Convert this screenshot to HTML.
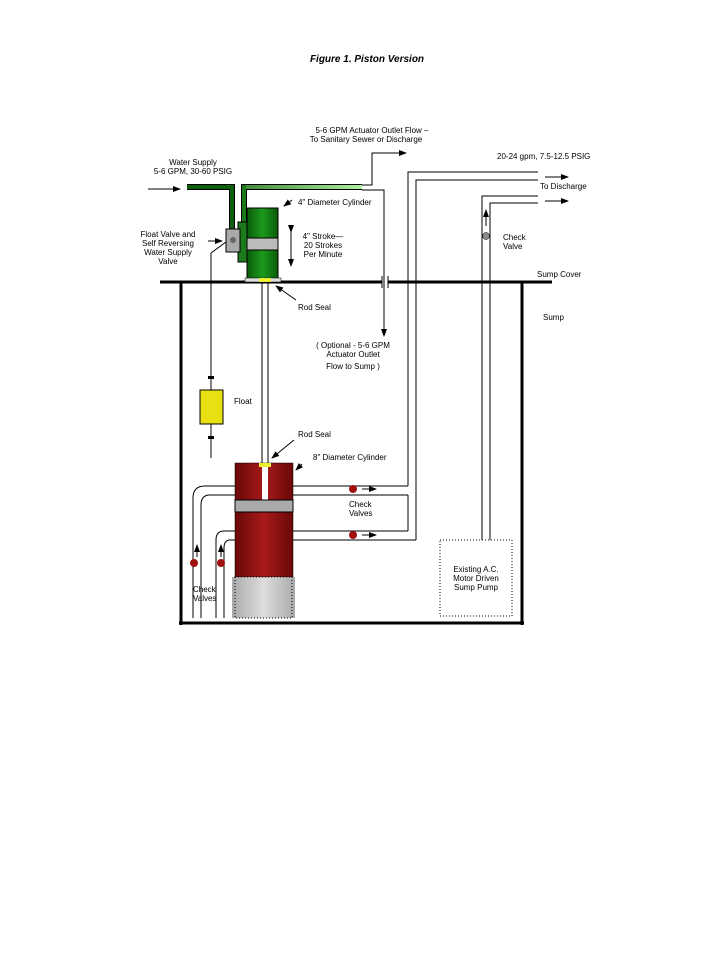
<!DOCTYPE html>
<html><head><meta charset="utf-8"><style>
body{margin:0;background:#fff}
svg text{font-family:"Liberation Sans",sans-serif;font-size:8px;fill:#000}
</style></head><body>
<svg width="719" height="959" viewBox="0 0 719 959" xmlns="http://www.w3.org/2000/svg">
<defs>
<linearGradient id="g" x1="0" x2="1"><stop offset="0" stop-color="#0a5a0a"/><stop offset=".5" stop-color="#1c9a1c"/><stop offset="1" stop-color="#0a5a0a"/></linearGradient>
<linearGradient id="r" x1="0" x2="1"><stop offset="0" stop-color="#6a0808"/><stop offset=".5" stop-color="#a81a1a"/><stop offset="1" stop-color="#6a0808"/></linearGradient>
<linearGradient id="gp" gradientUnits="userSpaceOnUse" x1="187" x2="362" y1="0" y2="0"><stop offset="0" stop-color="#0a5a0a"/><stop offset="1" stop-color="#aef0a0"/></linearGradient>
<linearGradient id="gr" x1="0" x2="1"><stop offset="0" stop-color="#aaa"/><stop offset=".5" stop-color="#ddd"/><stop offset="1" stop-color="#aaa"/></linearGradient>
<marker id="a" markerWidth="8" markerHeight="6" refX="7" refY="3" orient="auto"><path d="M0,0L8,3L0,6z"/></marker>
</defs>
<text x="367" y="62" text-anchor="middle" style="font-size:10px;font-weight:bold;font-style:italic">Figure 1. Piston Version</text>

<g stroke="#000" fill="none">
<line x1="160" y1="282" x2="382" y2="282" stroke-width="3"/>
<line x1="388" y1="282" x2="552" y2="282" stroke-width="3"/>
<line x1="382" y1="276" x2="382" y2="288"/><line x1="388" y1="276" x2="388" y2="288"/>
<line x1="181" y1="282" x2="181" y2="625" stroke-width="3"/>
<line x1="522" y1="282" x2="522" y2="625" stroke-width="3"/>
<line x1="179" y1="623" x2="524" y2="623" stroke-width="3"/>
</g>
<g stroke="#000" fill="none" stroke-width="1">
<path d="M408 486V172H538"/><path d="M416 540V180H538"/>
<path d="M408 495V531"/>
<path d="M482 540V196H538"/><path d="M490 540V203H538"/>
<line x1="545" y1="177" x2="568" y2="177" marker-end="url(#a)"/>
<line x1="545" y1="201" x2="568" y2="201" marker-end="url(#a)"/>
<line x1="486" y1="226" x2="486" y2="210" marker-end="url(#a)"/>
<path d="M362 185H372V153H406" marker-end="url(#a)"/>
<path d="M362 190H384V336" marker-end="url(#a)"/>
<path d="M235 486H205Q193 486 193 498V618"/>
<path d="M235 495H210Q201 495 201 505V618"/>
<path d="M235 531H224Q216 531 216 540V618"/>
<path d="M235 540H230Q224 540 224 548V618"/>
<path d="M293 486H408"/><path d="M293 495H408"/>
<path d="M293 531H408"/><path d="M293 540H416"/>
<line x1="362" y1="489" x2="376" y2="489" marker-end="url(#a)"/>
<line x1="362" y1="535" x2="376" y2="535" marker-end="url(#a)"/>
<line x1="197" y1="557" x2="197" y2="545" marker-end="url(#a)"/>
<line x1="221" y1="557" x2="221" y2="545" marker-end="url(#a)"/>
<line x1="262" y1="282" x2="262" y2="470"/><line x1="268" y1="282" x2="268" y2="470"/>
<line x1="211" y1="253" x2="211" y2="458"/>
<line x1="211" y1="253" x2="226" y2="242"/>
</g>
<circle cx="486" cy="236" r="3.5" fill="#888" stroke="#000" stroke-width=".5"/>
<circle cx="353" cy="489" r="4" fill="#a01010"/><circle cx="353" cy="535" r="4" fill="#a01010"/>
<circle cx="194" cy="563" r="4" fill="#a01010"/><circle cx="221" cy="563" r="4" fill="#a01010"/>
<rect x="208" y="376" width="6" height="3" fill="#000"/><rect x="208" y="436" width="6" height="3" fill="#000"/>
<rect x="200" y="390" width="23" height="34" fill="#e8e010" stroke="#000"/>
<rect x="440" y="540" width="72" height="76" fill="none" stroke="#000" stroke-dasharray="1,2"/>

<!-- green pipes -->
<path d="M187 187H232V229" fill="none" stroke="#000" stroke-width="6"/>
<path d="M244 222V187H362" fill="none" stroke="#000" stroke-width="6"/>
<path d="M187 187H232V229" fill="none" stroke="#0d5f0d" stroke-width="4"/>
<path d="M244 222V187H362" fill="none" stroke="#1a7a1a" stroke-width="4"/>
<line x1="246" y1="187" x2="362" y2="187" stroke="url(#gp)" stroke-width="4"/>
<rect x="238" y="222" width="10" height="40" fill="#1c7a1c" stroke="#000"/>
<rect x="226" y="229" width="14" height="23" fill="#aaa" stroke="#000"/>
<circle cx="233" cy="240" r="3" fill="#666"/>
<rect x="247" y="208" width="31" height="74" fill="url(#g)" stroke="#000"/>
<rect x="247" y="238" width="31" height="12" fill="#bbb" stroke="#000"/>
<rect x="245" y="278" width="36" height="4" fill="#ddd" stroke="#000" stroke-width=".5"/>
<rect x="259" y="278" width="12" height="4" fill="#ee3"/>
<line x1="291" y1="232" x2="291" y2="266" stroke="#000" marker-end="url(#a)" marker-start="url(#a)"/>
<rect x="235" y="463" width="58" height="114" fill="url(#r)" stroke="#000" stroke-width=".5"/>
<rect x="262" y="466" width="6" height="34" fill="#fff"/>
<rect x="259" y="463" width="12" height="4" fill="#ee3"/>
<rect x="235" y="500" width="58" height="12" fill="#aaa" stroke="#000"/>
<rect x="232" y="577" width="63" height="41" fill="url(#gr)"/>
<rect x="235" y="577" width="57" height="41" fill="none" stroke="#000" stroke-dasharray="1,2"/>
<g stroke="#000" fill="none">
<line x1="148" y1="189" x2="180" y2="189" marker-end="url(#a)"/>
<line x1="208" y1="241" x2="222" y2="241" marker-end="url(#a)"/>
<line x1="292" y1="200" x2="284" y2="206" marker-end="url(#a)"/>
<line x1="296" y1="300" x2="276" y2="286" marker-end="url(#a)"/>
<line x1="294" y1="440" x2="272" y2="458" marker-end="url(#a)"/>
<line x1="302" y1="464" x2="296" y2="470" marker-end="url(#a)"/>
</g>
<text x="193" y="165" text-anchor="middle">Water Supply</text>
<text x="193" y="174" text-anchor="middle">5-6 GPM, 30-60 PSIG</text>
<text x="372" y="133" text-anchor="middle">5-6 GPM Actuator Outlet Flow –</text>
<text x="366" y="142" text-anchor="middle">To Sanitary Sewer or Discharge</text>
<text x="298" y="205">4" Diameter Cylinder</text>
<text x="168" y="237" text-anchor="middle">Float Valve and</text>
<text x="168" y="246" text-anchor="middle">Self Reversing</text>
<text x="168" y="255" text-anchor="middle">Water Supply</text>
<text x="168" y="264" text-anchor="middle">Valve</text>
<text x="323" y="239" text-anchor="middle">4" Stroke—</text>
<text x="323" y="248" text-anchor="middle">20 Strokes</text>
<text x="323" y="257" text-anchor="middle">Per Minute</text>
<text x="298" y="310">Rod Seal</text>
<text x="497" y="159">20-24 gpm, 7.5-12.5 PSIG</text>
<text x="540" y="189">To Discharge</text>
<text x="503" y="240">Check</text><text x="503" y="249">Valve</text>
<text x="537" y="277">Sump Cover</text>
<text x="543" y="320">Sump</text>
<text x="353" y="348" text-anchor="middle">( Optional - 5-6 GPM</text>
<text x="353" y="357" text-anchor="middle">Actuator Outlet</text>
<text x="353" y="369" text-anchor="middle">Flow to Sump )</text>
<text x="234" y="404">Float</text>
<text x="298" y="437">Rod Seal</text>
<text x="313" y="460">8" Diameter Cylinder</text>
<text x="349" y="507">Check</text><text x="349" y="516">Valves</text>
<text x="193" y="592">Check</text><text x="193" y="601">Valves</text>
<text x="476" y="572" text-anchor="middle">Existing A.C.</text>
<text x="476" y="581" text-anchor="middle">Motor Driven</text>
<text x="476" y="590" text-anchor="middle">Sump Pump</text>
</svg>
</body></html>
